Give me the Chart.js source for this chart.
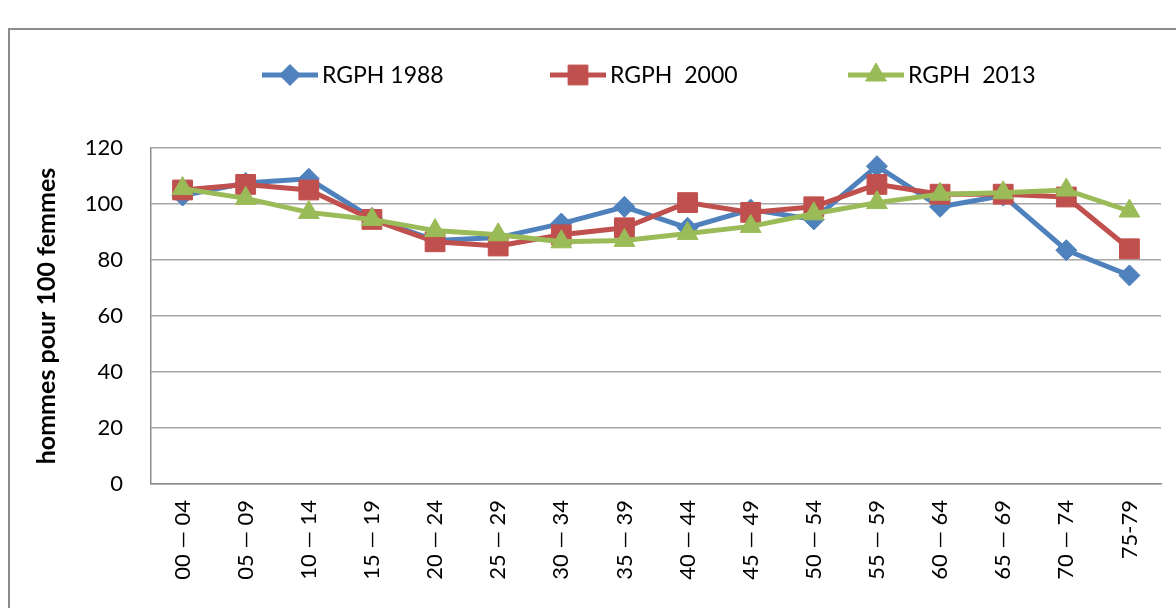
<!DOCTYPE html>
<html>
<head>
<meta charset="utf-8">
<script src="https://cdn.jsdelivr.net/npm/chart.js@4/dist/chart.umd.min.js"></script>
<style>
  html, body { margin: 0; padding: 0; background: #fff; }
  #wrap { width: 1176px; height: 608px; position: relative; }
</style>
</head>
<body>
<div id="wrap"><canvas id="ratioChart" width="1176" height="608"></canvas></div>
<script>
// age groups on the x axis
var ageGroups = [ "00 \u2014 04", "05 \u2014 09", "10 \u2014 14", "15 \u2014 19",
	"20 \u2014 24", "25 \u2014 29", "30 \u2014 34", "35 \u2014 39", "40 \u2014 44",
	"45 \u2014 49", "50 \u2014 54", "55 \u2014 59", "60 \u2014 64", "65 \u2014 69",
	"70 \u2014 74", "75-79" ];

// hommes pour 100 femmes, one array per census
var rgph1988 = [ 103, 107.5, 109, 95, 87, 88, 93, 99, 91.5, 98, 94.5, 113.5, 99, 103, 83.5, 74.5 ];
var rgph2000 = [ 105, 107, 105, 94.5, 86.5, 85, 89, 91.5, 100.5, 97, 99, 107, 103.5, 103.5, 102.5, 84 ];
var rgph2013 = [ 105.5, 102, 97, 94.5, 90.5, 89, 86.5, 87, 89.5, 92, 96.5, 100.5, 103.5, 104, 105, 97.5 ];

var seriesNames = [ "RGPH 1988", "RGPH  2000", "RGPH  2013" ];
var yTicks = [ 0, 20, 40, 60, 80, 100, 120 ];

var FONT = "Lato";

// grey frame round the chart (only top and left edges show)
var framePlugin = {
    id : 'frame',
    beforeDraw : function(chart) {
	var ctx = chart.ctx;
	ctx.save();
	ctx.strokeStyle = '#8c8c8c';
	ctx.lineWidth = 2;
	ctx.strokeRect(9, 29, 2000, 2000);
	ctx.restore();
    }
};

// legend drawn like the excel one: line with marker, then label
var legendPlugin = {
    id : 'lineLegend',
    afterDraw : function(chart) {
	var ctx = chart.ctx;
	var xs = [ 262, 550, 848 ];
	var y = 75;
	ctx.save();
	chart.data.datasets.forEach(function(ds, i) {
	    var x0 = xs[i];
	    ctx.strokeStyle = ds.borderColor;
	    ctx.lineWidth = 5;
	    ctx.beginPath();
	    ctx.moveTo(x0, y);
	    ctx.lineTo(x0 + 56, y);
	    ctx.stroke();
	    ctx.fillStyle = ds.backgroundColor;
	    ctx.strokeStyle = ds.borderColor;
	    ctx.lineWidth = 1;
	    Chart.helpers.drawPoint(ctx, {
		pointStyle : ds.pointStyle,
		radius : ds.pointRadius,
		rotation : 0,
		borderWidth : 1
	    }, x0 + 28, y);
	    ctx.fillStyle = '#000';
	    ctx.font = '23px ' + FONT;
	    ctx.textBaseline = 'middle';
	    ctx.textAlign = 'left';
	    ctx.fillText(ds.label, x0 + 60, y + 1);
	});
	ctx.restore();
    }
};

function sexRatio() {
    var ctx = document.getElementById("ratioChart");
    Chart.defaults.font.family = FONT;
    Chart.defaults.color = '#000';
    var chart = new Chart(ctx, {
	type : 'line',
	data : {
	    labels : ageGroups,
	    datasets : [ {
		label : seriesNames[0],
		data : rgph1988,
		borderColor : '#4F81BD',
		backgroundColor : '#4F81BD',
		pointStyle : 'rectRot',
		pointRadius : 10.5,
		order : 3
	    }, {
		label : seriesNames[1],
		data : rgph2000,
		borderColor : '#C0504D',
		backgroundColor : '#C0504D',
		pointStyle : 'rect',
		pointRadius : 14,
		order : 2
	    }, {
		label : seriesNames[2],
		data : rgph2013,
		borderColor : '#9BBB59',
		backgroundColor : '#9BBB59',
		pointStyle : 'triangle',
		pointRadius : 12,
		order : 1
	    } ]
	},
	options : {
	    responsive : false,
	    animation : false,
	    layout : {
		padding : { top : 148, right : 0, bottom : 0, left : 0 }
	    },
	    elements : {
		line : { borderWidth : 5, tension : 0 },
		point : { borderWidth : 1, hoverRadius : 10 }
	    },
	    plugins : {
		legend : { display : false },
		tooltip : { enabled : false }
	    },
	    scales : {
		x : {
		    offset : true,
		    grid : { display : false, drawTicks : false },
		    border : { display : true, color : '#8c8c8c', width : 1.5 },
		    ticks : {
			autoSkip : false,
			maxRotation : 90,
			minRotation : 90,
			padding : 16,
			color : '#000',
			font : { size : 22 }
		    },
		    afterFit : function(s) {
			s.height = 124;
		    }
		},
		y : {
		    min : 0,
		    max : 120,
		    afterBuildTicks : function(s) {
			s.ticks = yTicks.map(function(v) {
			    return { value : v };
			});
		    },
		    grid : { color : '#a6a6a6', lineWidth : 1.5, drawTicks : false },
		    border : { display : true, color : '#8c8c8c', width : 1.5 },
		    ticks : {
			padding : 28,
			color : '#000',
			font : { size : 22 }
		    },
		    title : {
			display : true,
			text : 'hommes pour 100 femmes',
			color : '#000',
			font : { size : 25, weight : 'bold' },
			padding : { top : 32, bottom : 0 }
		    },
		    afterFit : function(s) {
			s.width = 151;
		    }
		}
	    }
	},
	plugins : [ framePlugin, legendPlugin ]
    });
}

sexRatio();
</script>
</body>
</html>
